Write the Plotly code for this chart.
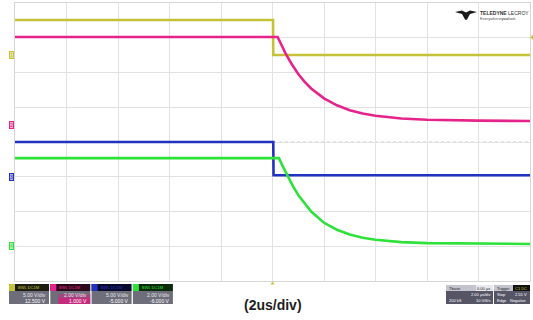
import plotly.graph_objects as go

# ---------------- data (time in microseconds, amplitude in volts) ----------------
t_c1 = [-10.0, 0.02, 0.03, 10.0]
v_c1 = [5.05, 5.05, 0.02, 0.02]

t_c2 = [-10.0, 0.2, 0.35, 0.5, 0.75, 1.0, 1.25, 1.5, 2.0, 2.5, 3.0, 3.5, 4.0, 5.0, 6.0, 7.0, 8.0, 10.0]
v_c2 = [5.04, 5.04, 4.58, 4.12, 3.47, 2.91, 2.46, 2.08, 1.51, 1.11, 0.83, 0.64, 0.51, 0.35, 0.28, 0.24, 0.23, 0.21]

t_c3 = [-10.0, 0.03, 0.04, 10.0]
v_c3 = [5.0, 5.0, 0.22, 0.22]

t_c4 = [-10.0, 0.25, 0.4, 0.6, 0.8, 1.0, 1.25, 1.5, 2.0, 2.5, 3.0, 3.5, 4.0, 5.0, 6.0, 8.0, 10.0]
v_c4 = [5.07, 5.07, 4.6, 4.0, 3.45, 2.95, 2.45, 2.0, 1.35, 0.95, 0.68, 0.49, 0.37, 0.24, 0.18, 0.14, 0.13]

channels = ["C1", "C2", "C3", "C4"]
volts_per_div = [5.0, 2.0, 5.0, 2.0]
offsets = [12.5, 1.0, -5.0, -6.0]
vdiv_labels = ["5.00 V/div", "2.00 V/div", "5.00 V/div", "2.00 V/div"]
offset_labels = ["12.500 V", "1.000 V", "-5.000 V", "-6.000 V"]
time_per_div = 2.0
n_hdiv = 10
n_vdiv = 8
xlabel = "(2us/div)"

colors = ["#c6c237", "#e6238a", "#2232c0", "#2ee23a"]
pale = ["#e4e2a8", "#f4b0d0", "#b0b4e4", "#b4f0b8"]

times = [t_c1, t_c2, t_c3, t_c4]
volts = [v_c1, v_c2, v_c3, v_c4]
axis_ids = ["y", "y2", "y3", "y4"]

# ---------------- figure ----------------
W, H = 533, 320
L, R, T, B = 15, 3, 3, 39
pw, ph = W - L - R, H - T - B


def px(x):
    return (x - L) / pw


def py(y):
    return (T + ph - y) / ph


fig = go.Figure()
for i in range(4):
    fig.add_trace(go.Scatter(
        x=times[i], y=volts[i], mode="lines", yaxis=axis_ids[i],
        line=dict(color=colors[i], width=2.6), hoverinfo="skip", showlegend=False))

half_t = time_per_div * n_hdiv / 2
layout_axes = {}
for i in range(4):
    s, o = volts_per_div[i], offsets[i]
    rng = [-(n_vdiv / 2) * s - o, (n_vdiv / 2) * s - o]
    key = "yaxis" if i == 0 else "yaxis%d" % (i + 1)
    if i == 0:
        layout_axes[key] = dict(range=rng, dtick=s, tick0=-o, showgrid=True,
                                gridcolor="#e2e2e2", gridwidth=1, zeroline=False,
                                showticklabels=False, ticks="", showline=True,
                                mirror=True, linecolor="#d6d6d6", fixedrange=True)
    else:
        layout_axes[key] = dict(range=rng, overlaying="y", visible=False,
                                showgrid=False, zeroline=False, fixedrange=True)

shapes = []
# center dotted lines
shapes.append(dict(type="line", xref="x", yref="paper", x0=0, x1=0, y0=0, y1=1,
                   line=dict(color="#b8b8b8", width=1, dash="dot"), layer="below"))
shapes.append(dict(type="line", xref="paper", yref="paper", x0=0, x1=1, y0=0.5, y1=0.5,
                   line=dict(color="#c8c8c8", width=1, dash="dot"), layer="below"))

annotations = []
# ground markers on the left
for i in range(4):
    annotations.append(dict(xref="paper", yref=axis_ids[i],
                            x=px(13.5), y=0, xanchor="right", yanchor="middle",
                            text=str(i + 1), showarrow=False,
                            font=dict(size=5, color=colors[i], family="Liberation Sans"),
                            bgcolor=pale[i], bordercolor=colors[i], borderwidth=1, borderpad=0))

# trigger level marker (right edge) and trigger position marker (bottom)
shapes.append(dict(type="path", xref="paper", yref="paper",
                   path="M %f %f L %f %f L %f %f Z" % (px(533), py(34.5), px(533), py(40), px(530.5), py(37.2)),
                   fillcolor=colors[0], line=dict(width=0)))
shapes.append(dict(type="path", xref="paper", yref="paper",
                   path="M %f %f L %f %f L %f %f Z" % (px(270.5), py(284.5), px(274.5), py(284.5), px(272.5), py(281.5)),
                   fillcolor=colors[0], line=dict(width=0)))

# channel descriptor boxes
headers = ["BWL DC1M", "BWL DC1M", "BWL DC1M", "BWL DC1M"]
hdr_bg = ["#1e1e10", "#2a0a1a", "#0a0a2e", "#0a2a0a"]
for i in range(4):
    x0 = 9 + 41.3 * i
    x1 = x0 + 40
    shapes.append(dict(type="rect", xref="paper", yref="paper", x0=px(x0), x1=px(x1),
                       y0=py(291), y1=py(284), fillcolor=hdr_bg[i], line=dict(width=0)))
    shapes.append(dict(type="rect", xref="paper", yref="paper", x0=px(x0), x1=px(x0 + 6),
                       y0=py(291), y1=py(284), fillcolor=colors[i], line=dict(width=0)))
    body = "#6e6e7a"
    shapes.append(dict(type="rect", xref="paper", yref="paper", x0=px(x0), x1=px(x1),
                       y0=py(304), y1=py(291), fillcolor=body, line=dict(width=0)))
    if i == 1:
        shapes.append(dict(type="rect", xref="paper", yref="paper", x0=px(x0 + 8), x1=px(x1),
                           y0=py(304), y1=py(298), fillcolor="#d4207e", line=dict(width=0),
                           opacity=0.85))
        shapes.append(dict(type="rect", xref="paper", yref="paper", x0=px(x0 + 8), x1=px(x1),
                           y0=py(298), y1=py(294), fillcolor="#b03a80", line=dict(width=0),
                           opacity=0.7))
    annotations.append(dict(xref="paper", yref="paper", x=px(x0 + 7), y=py(287.5),
                            xanchor="left", yanchor="middle", text=headers[i], showarrow=False,
                            font=dict(size=4, color=colors[i], family="Liberation Sans")))
    annotations.append(dict(xref="paper", yref="paper", x=px(x1 - 1), y=py(294.5),
                            xanchor="right", yanchor="middle", text=vdiv_labels[i], showarrow=False,
                            font=dict(size=5, color="#e8e8ee", family="Liberation Sans")))
    annotations.append(dict(xref="paper", yref="paper", x=px(x1 - 1), y=py(300.5),
                            xanchor="right", yanchor="middle", text=offset_labels[i], showarrow=False,
                            font=dict(size=5, color="#ffffff", family="Liberation Sans")))

# timebase and trigger boxes
for (x0, x1) in [(446, 493), (494, 530)]:
    shapes.append(dict(type="rect", xref="paper", yref="paper", x0=px(x0), x1=px(x1),
                       y0=py(291), y1=py(285), fillcolor="#c4c4cc", line=dict(width=0)))
    shapes.append(dict(type="rect", xref="paper", yref="paper", x0=px(x0), x1=px(x1),
                       y0=py(304), y1=py(291), fillcolor="#555566", line=dict(width=0)))
shapes.append(dict(type="rect", xref="paper", yref="paper", x0=px(513), x1=px(530),
                   y0=py(291), y1=py(285), fillcolor="#111111", line=dict(width=0)))
shapes.append(dict(type="rect", xref="paper", yref="paper", x0=px(476), x1=px(493),
                   y0=py(291), y1=py(285), fillcolor="#e8e8ee", line=dict(width=0)))
tb_texts = [
    (447, 288, "Tbase", "left", "#222222"), (492, 288, "0.00 µs", "right", "#222222"),
    (492, 294.5, "2.00 µs/div", "right", "#ffffff"),
    (447, 300.5, "200 kS", "left", "#ffffff"), (492, 300.5, "10 GS/s", "right", "#ffffff"),
    (495, 288, "Trigger", "left", "#222222"), (529, 288, "C1 DC", "right", colors[0]),
    (495, 294.5, "Stop", "left", "#ffffff"), (529, 294.5, "2.55 V", "right", "#ffffff"),
    (495, 300.5, "Edge", "left", "#ffffff"), (529, 300.5, "Negative", "right", "#ffffff"),
]
for (x, y, txt, anc, col) in tb_texts:
    annotations.append(dict(xref="paper", yref="paper", x=px(x), y=py(y), xanchor=anc,
                            yanchor="middle", text=txt, showarrow=False,
                            font=dict(size=4, color=col, family="Liberation Sans")))

# x-axis scale label
annotations.append(dict(xref="paper", yref="paper", x=0.5, y=py(304.5), xanchor="center",
                        yanchor="middle", text="<b>%s</b>" % xlabel, showarrow=False,
                        font=dict(size=14, color="#1e1e1e", family="Liberation Sans, Arial")))

# logo
logo_pts = [(455, 12), (462, 10.5), (466, 12.5), (470, 10.5), (477, 12), (470, 14),
            (467, 19.5), (466, 20), (465, 19.5), (462, 14)]
path = "M " + " L ".join("%f %f" % (px(a), py(b)) for a, b in logo_pts) + " Z"
shapes.append(dict(type="path", xref="paper", yref="paper", path=path,
                   fillcolor="#1a1a1a", line=dict(width=0)))
annotations.append(dict(xref="paper", yref="paper", x=px(478), y=py(12.5), xanchor="left",
                        yanchor="middle", text="<b>TELEDYNE</b> LECROY", showarrow=False,
                        font=dict(size=5, color="#333333", family="Liberation Sans")))
annotations.append(dict(xref="paper", yref="paper", x=px(478), y=py(18), xanchor="left",
                        yanchor="middle", text="Everywhere<b>you</b>look", showarrow=False,
                        font=dict(size=4, color="#555555", family="Liberation Sans")))

fig.update_layout(
    width=W, height=H,
    margin=dict(l=L, r=R, t=T, b=B, pad=0),
    paper_bgcolor="white", plot_bgcolor="white",
    xaxis=dict(range=[-half_t, half_t], dtick=time_per_div, tick0=0, showgrid=True,
               gridcolor="#e2e2e2", gridwidth=1, zeroline=False, showticklabels=False,
               ticks="", showline=True, mirror=True, linecolor="#d6d6d6", fixedrange=True),
    shapes=shapes, annotations=annotations, showlegend=False,
    **layout_axes,
)

fig.write_html("out.html", config={"displayModeBar": False},
               post_script="document.body.style.margin='0';document.body.style.padding='0';")
